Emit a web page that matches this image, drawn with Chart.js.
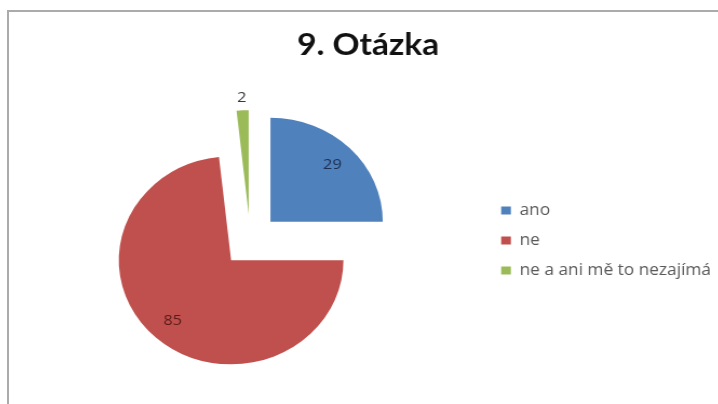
<!DOCTYPE html>
<html>
<head>
<meta charset="utf-8">
<script src="https://cdn.jsdelivr.net/npm/chart.js@4/dist/chart.umd.min.js"></script>
<style>
  html, body { margin: 0; padding: 0; overflow: hidden; background: #fff; }
  #frame {
    position: absolute; left: 7px; top: 10px;
    width: 740px; height: 420px;
    border: 2px solid #ababab;
    overflow: hidden; background: #fff;
  }
  /* the whole chart is drawn slightly wider than tall */
  #chart { position: absolute; left: 0; top: 0; transform: scale(1.08, 1); transform-origin: 0 0; }
</style>
</head>
<body>
<div id="frame"><canvas id="chart" width="665" height="396"></canvas></div>
<script>
// Answers to question 9
const categories = ['ano', 'ne', 'ne a ani mě to nezajímá'];
const answerCounts = [29, 85, 2];
const sliceColors = ['#4f81bd', '#c0504d', '#9bbb59'];
const labelColors = ['#1d2f52', '#5a1b19', '#3a3a3a'];
const chartTitle = '9. Otázka';

// Every slice is pulled out from the centre by this distance
const EXPLODE = 26.5;
const PIE_RADIUS = 104;

function sliceGeometry(arc) {
  const p = arc.getProps(['x', 'y', 'startAngle', 'endAngle', 'outerRadius'], true);
  return { p, mid: (p.startAngle + p.endAngle) / 2 };
}

const explodedPie = {
  id: 'explodedPie',
  afterLayout(chart) {
    // keep the legend block vertically centred on the pie
    const lg = chart.legend, ca = chart.chartArea;
    if (!lg) return;
    const shift = (ca.top + ca.bottom) / 2 - (lg.top + lg.bottom) / 2;
    lg.top += shift;
    lg.bottom += shift;
  },
  beforeDatasetDraw(chart, args) {
    const ctx = chart.ctx;
    args.meta.data.forEach((arc) => {
      const { mid } = sliceGeometry(arc);
      ctx.save();
      ctx.translate(Math.cos(mid) * EXPLODE, Math.sin(mid) * EXPLODE);
      arc.draw(ctx);
      ctx.restore();
    });
    return false;
  },
  afterDatasetsDraw(chart) {
    const ctx = chart.ctx;
    const meta = chart.getDatasetMeta(0);
    const data = chart.data.datasets[0].data;
    const total = data.reduce((a, b) => a + b, 0);
    ctx.save();
    ctx.font = '15px "Open Sans", sans-serif';
    ctx.textAlign = 'center';
    ctx.textBaseline = 'middle';
    meta.data.forEach((arc, i) => {
      const { p, mid } = sliceGeometry(arc);
      const outside = data[i] / total < 0.05;
      const dist = EXPLODE + (outside ? p.outerRadius + 13 : p.outerRadius * 0.78);
      ctx.fillStyle = labelColors[i];
      ctx.fillText(String(data[i]), p.x + Math.cos(mid) * dist, p.y + Math.sin(mid) * dist);
    });
    ctx.restore();
  }
};

new Chart(document.getElementById('chart'), {
  type: 'pie',
  data: {
    labels: categories,
    datasets: [{
      data: answerCounts,
      backgroundColor: sliceColors,
      borderWidth: 0,
      radius: PIE_RADIUS
    }]
  },
  options: {
    responsive: false,
    animation: false,
    events: [],
    layout: { padding: { left: 5, right: 5, top: 0, bottom: 0 } },
    plugins: {
      title: {
        display: true,
        text: chartTitle,
        color: '#111',
        font: { family: 'Lato', size: 31, weight: 'bold' },
        padding: { top: 14, bottom: 10 }
      },
      legend: {
        position: 'right',
        labels: {
          boxWidth: 9,
          boxHeight: 8,
          padding: 14,
          color: '#595959',
          font: { family: 'Open Sans', size: 16 }
        }
      },
      tooltip: { enabled: false }
    }
  },
  plugins: [explodedPie]
});
</script>
</body>
</html>
